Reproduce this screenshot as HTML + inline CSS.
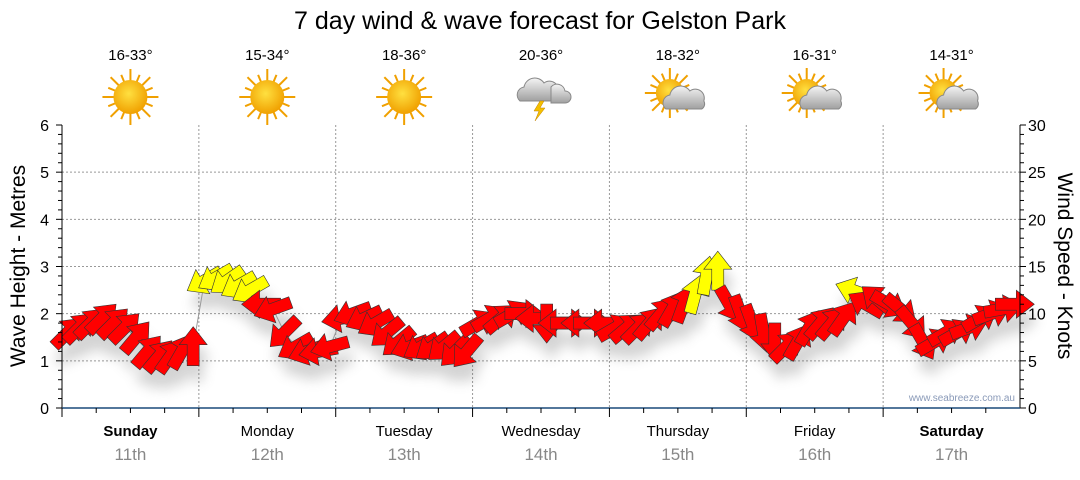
<!DOCTYPE html>
<html><head><meta charset="utf-8"><style>
body{margin:0;background:#fff;font-family:"Liberation Sans",sans-serif}
svg text{font-family:"Liberation Sans","DejaVu Sans",sans-serif}
</style></head><body>
<svg id="c" width="1080" height="475" viewBox="0 0 1080 475">
<defs>
<radialGradient id="sun" cx="45%" cy="40%" r="60%"><stop offset="0" stop-color="#ffe040"/><stop offset="1" stop-color="#f0a000"/></radialGradient>
<linearGradient id="cloud" x1="0" y1="0" x2="0" y2="1"><stop offset="0" stop-color="#f4f4f4"/><stop offset="1" stop-color="#a0a0a0"/></linearGradient>
<filter id="sh" x="-50%" y="-50%" width="200%" height="200%"><feGaussianBlur stdDeviation="6"/></filter>
</defs>
<text x="540" y="29" text-anchor="middle" font-size="25" fill="#000">7 day wind &amp; wave forecast for Gelston Park</text>
<g id="top"></g>
<g id="grid"></g>
<g id="shadows" filter="url(#sh)" opacity="0.25"></g>
<g id="marks"></g>
<g id="axes"></g>
<text x="25" y="266" transform="rotate(-90 25 266)" text-anchor="middle" font-size="21">Wave Height - Metres</text>
<text x="1058" y="266" transform="rotate(90 1058 266)" text-anchor="middle" font-size="21">Wind Speed - Knots</text>
<text x="1015" y="401" text-anchor="end" font-size="10" fill="#8a9ab8">www.seabreeze.com.au</text>
</svg>
<script>
const days=["Sunday","Monday","Tuesday","Wednesday","Thursday","Friday","Saturday"];
const dates=["11th","12th","13th","14th","15th","16th","17th"];
const temps=["16-33°","15-34°","18-36°","20-36°","18-32°","16-31°","14-31°"];
const icons=["sun","sun","sun","storm","partly","partly","partly"];
const leftTicks=[0,1,2,3,4,5,6];
const rightTicks=[0,5,10,15,20,25,30];
const windKnots=[
8,8.5,9,9.5,9,8.5,7.5,6,5.5,5.5,6,6.5,
13.5,13.8,13.5,13,12.5,11,10.5,8,6.5,6,6,6.5,
9.5,10,9.5,9,8,7,6.5,6.5,6.5,6.5,6,6,
9,9.5,9.5,10,10,9.5,9,9,9,9,9,9,
8.5,8.5,8.5,9,10,10.5,11,12,14,14.5,11,10,
9,8,7,6.5,7,8.5,9,9,9.5,12.4,11,11.5,
11,10.5,9,7,7,8,8,8.5,9.5,10,10.5,11];
const windDir=[
45,45,45,45,45,45,40,40,40,35,30,0,
240,240,235,240,240,270,250,225,240,250,260,255,
260,250,245,240,230,230,250,240,235,230,225,220,
60,60,50,60,90,270,180,270,90,270,90,270,
60,50,45,40,40,30,20,15,10,0,150,160,
160,170,180,45,30,30,40,40,35,290,300,310,
120,130,140,150,60,60,60,70,60,70,80,90];
const NS="http://www.w3.org/2000/svg";
const X0=62,X1=1020,Y0=408,Y1=125;
const dayW=(X1-X0)/7;
const yL=v=>Y0-(v/6)*(Y0-Y1);
const yR=v=>Y0-(v/30)*(Y0-Y1);
const xT=i=>X0+(i+0.5)*dayW/12;
function el(t,a,p){const e=document.createElementNS(NS,t);for(const k in a)e.setAttribute(k,a[k]);p.appendChild(e);return e;}
const grid=document.getElementById('grid'),axes=document.getElementById('axes'),top_=document.getElementById('top');
leftTicks.forEach(v=>{if(v>0&&v<6){const l=el('line',{x1:X0,x2:X1,y1:yL(v),y2:yL(v),stroke:'#999','stroke-dasharray':'2,2'},grid);

}
const t=el('text',{x:49,y:yL(v)+6,'text-anchor':'end','font-size':16},axes);t.textContent=v;

});
for(let i=0;i<=30;i++){const y=Y0-(i/30)*(Y0-Y1);el('line',{x1:X0-(i%5?4:6),x2:X0,y1:y,y2:y,stroke:'#000'},axes);el('line',{x1:X1,x2:X1+(i%5?4:6),y1:y,y2:y,stroke:'#000'},axes);}
rightTicks.forEach(v=>{const t=el('text',{x:1028,y:yR(v)+6,'font-size':16},axes);t.textContent=v;

});
el('line',{x1:X0,x2:X0,y1:Y1,y2:Y0,stroke:'#000'},axes);
el('line',{x1:X1,x2:X1,y1:Y1,y2:Y0,stroke:'#000'},axes);
el('line',{x1:X0,x2:X1,y1:Y0,y2:Y0,stroke:'#1a4a7a','stroke-width':1.5},axes);
for(let d=0;d<7;d++){
 const xs=X0+d*dayW,cx=xs+dayW/2;
 if(d>0){const l=el('line',{x1:xs,x2:xs,y1:Y1,y2:Y0,stroke:'#999','stroke-dasharray':'2,2'},grid);
 
 }
 for(let q=0;q<4;q++){const x=xs+q*dayW/4;el('line',{x1:x,x2:x,y1:Y0,y2:Y0+(q?5:9),stroke:'#000'},axes);}
 const dn=el('text',{x:cx,y:436,'text-anchor':'middle','font-size':15,'font-weight':(d==0||d==6)?'bold':'normal'},axes);dn.textContent=days[d];
 
 
 const dt=el('text',{x:cx,y:460,'text-anchor':'middle','font-size':17,fill:'#888'},axes);dt.textContent=dates[d];
 
 
 const tt=el('text',{x:cx,y:60,'text-anchor':'middle','font-size':15},top_);tt.textContent=temps[d];
 
 
 const g=el('g',{transform:`translate(${cx},97)`},top_);
 
 
 const ic=icons[d];
 if(ic!=='storm'){const sx=ic==='sun'?0:-8,sy=ic==='sun'?0:-4,r=ic==='sun'?17:14;
  for(let k=0;k<16;k++){const a=k*Math.PI/8,l=k%2?r+7:r+11;el('line',{x1:sx+Math.cos(a)*(r-2),y1:sy+Math.sin(a)*(r-2),x2:sx+Math.cos(a)*l,y2:sy+Math.sin(a)*l,stroke:'#f0a000','stroke-width':2},g);}
  el('circle',{cx:sx,cy:sy,r:r,fill:'url(#sun)'},g);}
 if(ic!=='sun'){const ox=ic==='storm'?-3:6,oy=ic==='storm'?-6:2;
  el('path',{d:`M${ox-18},${oy+10} a8,8 0 0 1 4,-14 a11,11 0 0 1 20,-4 a9,9 0 0 1 14,10 a6,6 0 0 1 -2,8 z`,fill:'url(#cloud)',stroke:'#888'},g);
  if(ic==='storm'){el('path',{d:'M10,-10 a8,8 0 0 1 14,4 a6,6 0 0 1 0,12 h-14 z',fill:'url(#cloud)',stroke:'#888'},g);
   el('path',{d:'M-1,4 l-6,10 h5 l-4,10 l10,-13 h-5 l4,-7 z',fill:'#f5c000',stroke:'#c08000','stroke-width':0.5},g);}}
}
const marks=document.getElementById('marks'),shadows=document.getElementById('shadows');
const pts=windKnots.map((v,i)=>[xT(i),yR(v)]);
const pl=el('polyline',{points:pts.map(p=>p.join(',')).join(' '),fill:'none',stroke:'#999','stroke-width':1},marks);


const arrowPath='M0,-20 L14,-2 L6,-2 L6,19 L-6,19 L-6,-2 L-14,-2 Z';
windKnots.forEach((v,i)=>{
 const [x,y]=pts[i];
 el('path',{d:arrowPath,transform:`translate(${x+4},${y+16}) rotate(${windDir[i]})`,fill:'#555'},shadows);
 const a=el('path',{d:arrowPath,transform:`translate(${x},${y}) rotate(${windDir[i]})`,fill:v>=12?'#ffff00':'#ff0000',stroke:'#333','stroke-width':0.6},marks);
 
 
});
</script>
</body></html>
